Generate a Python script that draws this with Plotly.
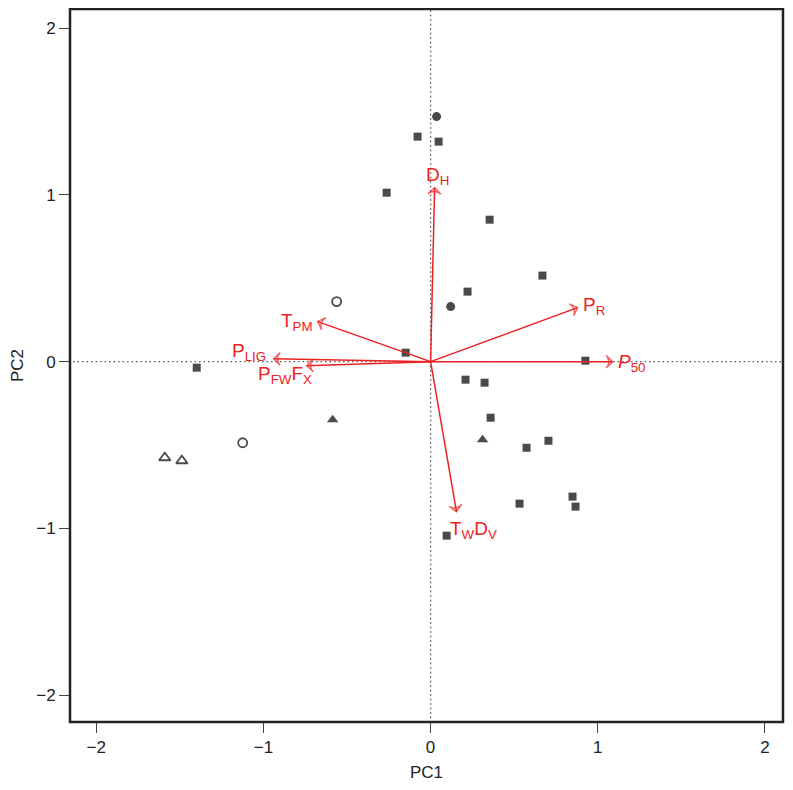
import plotly.graph_objects as go

# Observation scores (PC1, PC2) by group
sq_x = [-0.078, 0.048, -0.263, 0.353, 0.669, 0.221, -0.149, 0.926, -1.399, 0.209,
        0.323, 0.359, 0.705, 0.574, 0.532, 0.849, 0.867, 0.096]
sq_y = [1.349, 1.319, 1.013, 0.851, 0.516, 0.420, 0.054, 0.006, -0.036, -0.108,
        -0.126, -0.336, -0.474, -0.516, -0.851, -0.809, -0.869, -1.043]
fc_x = [0.036, 0.120]
fc_y = [1.469, 0.330]
oc_x = [-0.562, -1.124]
oc_y = [0.360, -0.486]
ft_x = [-0.586, 0.311]
ft_y = [-0.348, -0.468]
ot_x = [-1.590, -1.488]
ot_y = [-0.576, -0.594]

# Loadings (arrow tips)
load_names = ["D<sub>H</sub>", "P<sub>R</sub>", "<i>P</i><sub>50</sub>", "T<sub>PM</sub>",
              "P<sub>LIG</sub>", "P<sub>FW</sub>F<sub>X</sub>", "T<sub>W</sub>D<sub>V</sub>"]
load_x = [0.024, 0.879, 1.088, -0.675, -0.938, -0.741, 0.155]
load_y = [1.043, 0.324, 0.0, 0.240, 0.018, -0.024, -0.899]
# label positions
lab_x = [0.042, 0.975, 1.20, -0.80, -1.085, -0.873, 0.255]
lab_y = [1.115, 0.336, -0.006, 0.24, 0.06, -0.078, -1.007]

PT = "#4a4a4a"
RED = "#ee2020"

fig = go.Figure()

# reference dotted lines
fig.add_trace(go.Scatter(x=[-2.3, 2.3], y=[0, 0], mode="lines",
                         line=dict(color="#555555", width=1.3, dash="1.5px,3px"), hoverinfo="skip"))
fig.add_trace(go.Scatter(x=[0, 0], y=[-2.3, 2.3], mode="lines",
                         line=dict(color="#555555", width=1.3, dash="1.5px,3px"), hoverinfo="skip"))

fig.add_trace(go.Scatter(x=sq_x, y=sq_y, mode="markers",
                         marker=dict(symbol="square", size=8, color=PT)))
fig.add_trace(go.Scatter(x=fc_x, y=fc_y, mode="markers",
                         marker=dict(symbol="circle", size=9, color=PT)))
fig.add_trace(go.Scatter(x=oc_x, y=oc_y, mode="markers",
                         marker=dict(symbol="circle-open", size=9, color=PT, line=dict(width=1.8))))
fig.add_trace(go.Scatter(x=ft_x, y=ft_y, mode="markers",
                         marker=dict(symbol="triangle-up", size=10, color=PT)))
fig.add_trace(go.Scatter(x=ot_x, y=ot_y, mode="markers",
                         marker=dict(symbol="triangle-up-open", size=10, color=PT, line=dict(width=1.8))))

# arrows
for lx, ly in zip(load_x, load_y):
    fig.add_trace(go.Scatter(x=[0, lx], y=[0, ly], mode="lines+markers",
                             line=dict(color=RED, width=1.5),
                             marker=dict(symbol="arrow-wide-open", size=[0, 9], angleref="previous",
                                         color=RED, line=dict(color=RED, width=1.5)),
                             hoverinfo="skip"))

for name, x, y in zip(load_names, lab_x, lab_y):
    fig.add_annotation(x=x, y=y, text=name, showarrow=False, xanchor="center", yanchor="middle",
                       font=dict(color=RED, size=19, family="Liberation Sans, Arial, sans-serif"))

# plot frame
fig.add_shape(type="rect", xref="paper", yref="paper", x0=0, x1=1, y0=0, y1=1,
              line=dict(color="#222222", width=2.5), layer="above")

axis_common = dict(showgrid=False, zeroline=False, showline=False, automargin=False,
                   ticks="outside", ticklen=10,
                   tickwidth=1.2, tickcolor="#444444",
                   tickfont=dict(size=17, color="#222222"),
                   tickvals=[-2, -1, 0, 1, 2], ticktext=["\u22122", "\u22121", "0", "1", "2"])

# page body adds an 8px margin, so the figure is sized to fit inside the window
fig.update_layout(
    width=777, height=774,
    margin=dict(l=62, r=2, t=1, b=60),
    plot_bgcolor="white", paper_bgcolor="white",
    showlegend=False,
    font=dict(family="Liberation Sans, Arial, sans-serif", color="#222222"),
    xaxis=dict(range=[-2.157, 2.108], title=dict(text="PC1", font=dict(size=17), standoff=12), **axis_common),
    yaxis=dict(range=[-2.16, 2.114], title=dict(text="PC2", font=dict(size=17), standoff=16), **axis_common),
)

fig.write_html("out.html")
